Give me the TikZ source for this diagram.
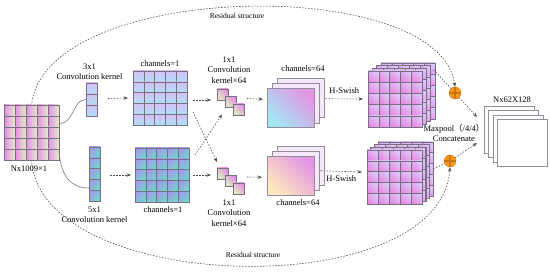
\documentclass[tikz,border=0pt]{standalone}
\usepackage{fontspec}
\setmainfont{Liberation Serif}
\newfontfamily\cjkfont{Noto Sans CJK SC}
\usetikzlibrary{arrows.meta, positioning, calc}
\definecolor{gridgray}{RGB}{118,112,128}
\definecolor{dashgray}{RGB}{80,80,80}
\definecolor{curvegray}{RGB}{120,120,120}
\definecolor{plusorange}{RGB}{250,150,20}
\definecolor{inmag}{RGB}{232,140,230}
\definecolor{ingreen}{RGB}{225,238,198}
\definecolor{uviolet}{RGB}{214,190,245}
\definecolor{ublue}{RGB}{172,226,245}
\definecolor{lpurple}{RGB}{165,152,236}
\definecolor{lteal}{RGB}{108,216,200}
\definecolor{oneyellow}{RGB}{222,238,190}
\definecolor{onemag}{RGB}{228,145,228}
\definecolor{magpink}{RGB}{234,135,228}
\definecolor{maglav}{RGB}{218,200,248}
\definecolor{frcyan}{RGB}{165,230,245}
\definecolor{frpeach}{RGB}{255,232,190}
\definecolor{frmag}{RGB}{226,150,228}
\definecolor{sheetfill}{RGB}{244,232,250}

\tikzset{
  gridframe/.style={draw=gridgray, line width=0.6pt, inner sep=0pt, outer sep=0pt},
  link/.style={draw=dashgray, line width=0.6pt, dash pattern=on 1.5pt off 1.5pt},
  flow/.style={link, -{Stealth[length=4.5pt, width=3.5pt]}},
  resid/.style={link, -{Stealth[length=4.5pt, width=3.5pt]}},
  curve/.style={draw=curvegray, line width=0.6pt},
  lbl/.style={font=\fontsize{8.5}{10.5}\selectfont, inner sep=0pt, align=center},
  small/.style={lbl, font=\fontsize{7.5}{9}\selectfont},
  sheet/.style={draw=gridgray!80, line width=0.5pt, fill=sheetfill, inner sep=0pt, anchor=north west},
  plus/.style={circle, fill=plusorange, draw=plusorange!80!black, line width=0.4pt,
    minimum size=12pt, inner sep=0pt,
    path picture={\draw[line width=1.1pt] (path picture bounding box.north) -- (path picture bounding box.south)
      (path picture bounding box.west) -- (path picture bounding box.east);}},
  incell/.style={draw=gridgray, line width=0.4pt, left color=inmag, right color=ingreen},
  ucell/.style={draw=gridgray, line width=0.4pt, top color=uviolet, bottom color=ublue},
  lcell/.style={draw=gridgray, line width=0.4pt, left color=lpurple, right color=lteal, shading angle=45},
  onecell/.style={draw=gridgray, line width=0.4pt, left color=oneyellow, right color=onemag, shading angle=135},
  magcell/.style={draw=gridgray, line width=0.4pt, left color=magpink, right color=maglav, shading angle=135},
  ufront/.style={left color=frcyan, right color=frmag, shading angle=135},
  lfront/.style={left color=frpeach, right color=frmag, shading angle=135}
}

% name, x, y, cols, rows, cell width, cell height, cell style
\newcommand{\gridblock}[8]{%
  \foreach \i in {1,...,#4}
    \foreach \j in {1,...,#5}
      \path[#8] ({#2+(\i-1)*#6},{#3+(\j-1)*#7}) rectangle ++(#6,#7);
  \node[gridframe, minimum width=#4*#6*1pt, minimum height=#5*#7*1pt, anchor=north west] (#1) at (#2,#3) {};
}

\begin{document}
\begin{tikzpicture}[x=1pt, y=-1pt]
  \useasboundingbox (0,0) rectangle (550,272);

  % residual arcs
  \node[plus] (pu) at (455,93) {};
  \node[plus] (pl) at (450,161) {};
  \coordinate (inN) at (31.5,105);
  \coordinate (inS) at (31.5,160);
  \draw[resid] (inN) .. controls (45,-20) and (440,-26) .. (pu.north);
  \draw[resid] (inS) .. controls (40,295) and (440,305) .. (pl.south);
  \node[small] (tr1) at (237,16) {Residual structure};
  \node[small] (tr2) at (253,255) {Residual structure};

  % input and kernels
  \gridblock{in}{4}{105}{5}{5}{11}{11}{incell}
  \gridblock{uk}{86}{83}{1}{3}{11}{11}{ucell}
  \gridblock{lk}{89}{147}{1}{5}{11}{10.8}{lcell}
  \gridblock{uc}{133}{71}{5}{5}{10.8}{10.8}{ucell}
  \gridblock{lc}{135}{148}{5}{5}{10.8}{10.8}{lcell}

  % 1x1 kernels
  \foreach \k/\n in {0/a,1/b,2/c} {
    \gridblock{u1\n}{217+8*\k}{89+7.5*\k}{1}{1}{11}{11}{onecell}
    \gridblock{l1\n}{217+8*\k}{168+7.5*\k}{1}{1}{11}{11}{onecell}
  }

  % channels=64
  \node[sheet, minimum width=47pt, minimum height=39pt] (ub) at (277,78) {};
  \node[sheet, minimum width=47pt, minimum height=40pt] (um) at (272,83) {};
  \node[sheet, ufront, minimum width=47pt, minimum height=39pt] (uf) at (267,88) {};
  \node[sheet, minimum width=47pt, minimum height=39pt] (lb) at (277,146) {};
  \node[sheet, minimum width=47pt, minimum height=39pt] (lm) at (272,151) {};
  \node[sheet, lfront, minimum width=47pt, minimum height=39pt] (lf) at (267,156) {};

  % maxpool stacks
  \foreach \k in {3,2,1,0} {
    \gridblock{mu\k}{368+4.3*\k}{71-2.7*\k}{5}{5}{10.8}{11.2}{magcell}
    \gridblock{ml\k}{367+3.7*\k}{150-2.7*\k}{5}{5}{11}{10.8}{magcell}
  }

  % output
  \foreach \k in {3,2,1,0}
    \node[sheet, fill=white, minimum width=50pt, minimum height=47pt] (o\k) at (497-4.3*\k,119-4.3*\k) {};
  \coordinate (cu) at (477,117);
  \coordinate (cl) at (477,143);

  % labels
  \node[lbl] (tin) at (29,169) {Nx1009×1};
  \node[lbl] (t3) at (89.5,71.5) {3x1\\Convolution kernel};
  \node[lbl] (t5) at (94.5,214.5) {5x1\\Convolution kernel};
  \node[lbl] (tuc) at (160,64) {channels=1};
  \node[lbl] (tlc) at (163,210) {channels=1};
  \node[lbl] (tu1) at (229,70) {1x1\\Convolution\\kernel×64};
  \node[lbl] (tl1) at (229,213) {1x1\\Convolution\\kernel×64};
  \node[lbl] (tuf) at (303,69) {channels=64};
  \node[lbl] (tlf) at (298,203) {channels=64};
  \node[lbl] (tmp) at (454,133) {Maxpool{\cjkfont （}/4/4{\cjkfont ）}\\Concatenate};
  \node[lbl] (tout) at (512,100) {Nx62X128};

  % connectors
  \draw[curve] ($(in.east)+(0,-9)$) .. controls +(16,0) and +(-14,0) .. (uk.west);
  \draw[curve] ($(in.east)+(0,19)$) .. controls +(2,25) and +(-18,0) .. ($(lk.west)+(0,14)$);
  \draw[flow] ($(uk.east)+(11,-1)$) -- ($(uc.west)+(-5,0)$);
  \draw[flow] ($(lk.east)+(10,1)$) -- ($(lc.west)+(-4,0)$);
  \draw[flow] ($(uc.east)+(6,2)$) -- ($(u1a.west)+(-6,5.5)$);
  \draw[flow] ($(lc.east)+(4,0)$) -- ($(l1a.west)+(-6,1.5)$);
  \draw[flow] ($(uc.east)+(6,14)$) -- ($(l1a.north west)+(0,-6)$);
  \draw[flow] ($(lc.east)+(6,-20)$) -- ($(u1b.south west)+(-3,7)$);
  \draw[flow] ($(u1b.east)+(11,-3.5)$) -- ($(uf.west)+(-4,-8.5)$);
  \draw[flow] ($(l1b.east)+(11,-4)$) -- ($(lf.west)+(-5,1.5)$);
  \draw[flow] ($(ub.east)+(1,1)$) -- node[lbl, above=5pt] (hu) {H-Swish} ($(mu0.west)+(-5,0)$);
  \draw[flow] ($(lm.east)+(1,0)$) -- node[lbl, below=4pt] (hl) {H-Swish} ($(ml0.west)+(-5,-5)$);
  \draw[link] ($(mu3.north east)+(-1,7)$) -- (pu);
  \draw[flow] (pu) -- (cu);
  \draw[link] (ml3.east) -- (pl);
  \draw[flow] (pl) -- (cl);
\end{tikzpicture}
\end{document}
